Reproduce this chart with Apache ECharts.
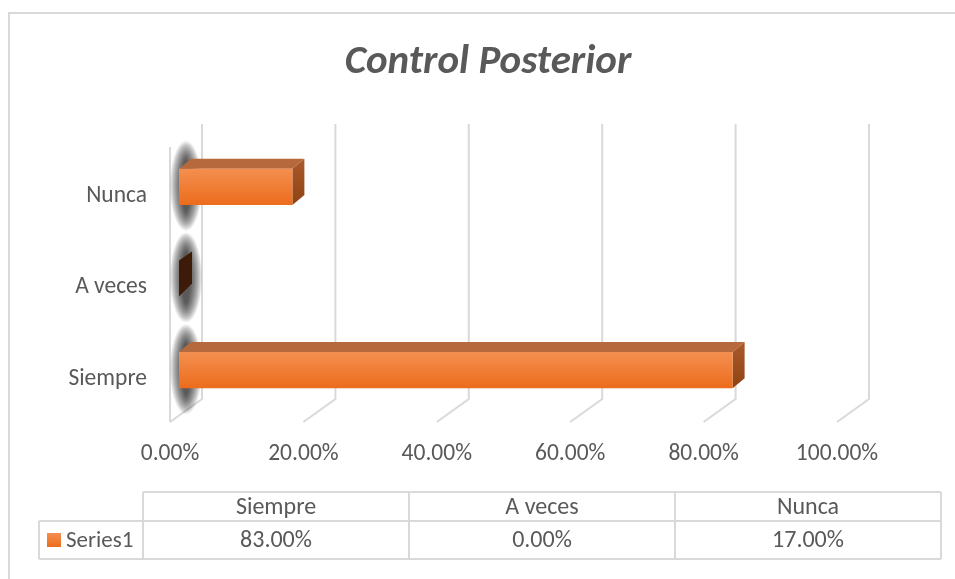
<!DOCTYPE html>
<html>
<head>
<meta charset="utf-8">
<script src="https://cdn.jsdelivr.net/npm/echarts@6/dist/echarts.min.js"></script>
<style>
html,body{margin:0;padding:0;background:#fff;}
#c{width:955px;height:579px;}
</style>
</head>
<body>
<div id="c"></div>
<script>
var titleText = 'Control Posterior';
var categories = ['Siempre', 'A veces', 'Nunca'];
var seriesName = 'Series1';
var values = [83, 0, 17];
var xTicks = [0, 20, 40, 60, 80, 100];

var FONT = 'Carlito, "Liberation Sans", Arial, sans-serif';
var TXT = '#595959';
var GRID = '#d9d9d9';

var chart = echarts.init(document.getElementById('c'), null, {renderer: 'canvas'});

var WALL_DX = 32, WALL_DY = -23;
var BAR_DX = 9, BAR_DY = -6;
var DEP_DX = 12, DEP_DY = -10;

function gridItem(params, api) {
  var cs = params.coordSys;
  var v = api.value(0);
  var x = api.coord([v, 0])[0];
  var bottom = cs.y + cs.height, top = cs.y;
  var children = [{
    type: 'polyline',
    shape: {points: [[x, bottom], [x + WALL_DX, bottom + WALL_DY], [x + WALL_DX, top + WALL_DY]]},
    style: {stroke: GRID, lineWidth: 2, fill: null}
  }];
  if (v === 0) {
    children.push({
      type: 'line',
      shape: {x1: x, y1: top, x2: x, y2: bottom},
      style: {stroke: GRID, lineWidth: 2}
    });
  }
  return {type: 'group', children: children};
}

function barItem(params, api) {
  var v = api.value(0);
  var ci = api.value(1);
  var p0 = api.coord([0, ci]);
  var p1 = api.coord([v, ci]);
  var band = api.size([0, 1])[1];
  var h = band * 0.395;
  var x0 = p0[0] + BAR_DX, x1 = p1[0] + BAR_DX;
  var yc = p0[1] + BAR_DY;
  var yT = yc - h / 2, yB = yc + h / 2;
  var children = [];
  // soft shadow on the side wall (stacked translucent ellipses)
  var scx = x0 + 7, scy = yc - 1;
  var N = 22;
  for (var k = 0; k < N; k++) {
    var t = k / (N - 1);
    children.push({
      type: 'ellipse',
      shape: {cx: scx, cy: scy, rx: 16 - 12 * t, ry: 45 - 19 * t},
      style: {fill: 'rgba(0,0,0,0.042)'}
    });
  }
  if (v > 0) {
    children.push({
      type: 'polygon',
      shape: {points: [[x0, yT], [x1, yT], [x1 + DEP_DX, yT + DEP_DY], [x0 + DEP_DX, yT + DEP_DY]]},
      style: {fill: '#b7693e'}
    });
    children.push({
      type: 'polygon',
      shape: {points: [[x1, yT], [x1 + DEP_DX, yT + DEP_DY], [x1 + DEP_DX, yB + DEP_DY], [x1, yB]]},
      style: {fill: new echarts.graphic.LinearGradient(0, 0, 0, 1, [{offset: 0, color: '#ab5a2a'}, {offset: 1, color: '#8e4213'}])}
    });
    children.push({
      type: 'rect',
      shape: {x: x0, y: yT, width: x1 - x0, height: yB - yT},
      style: {fill: new echarts.graphic.LinearGradient(0, 0, 0, 1, [{offset: 0, color: '#f48f50'}, {offset: 1, color: '#ec6c1c'}])}
    });
  } else {
    children.push({
      type: 'polygon',
      shape: {points: [[x1, yT], [x1 + DEP_DX + 1, yT + DEP_DY + 1], [x1 + DEP_DX + 1, yB + DEP_DY - 3], [x1, yB]]},
      style: {fill: '#3e1b08'}
    });
  }
  return {type: 'group', children: children};
}

var tLeftHead = 143, tLeftRow = 39, tRight = 941;
var tTop = 492, tMid = 521, tBot = 559;
var colW = (tRight - tLeftHead) / categories.length;
var graphics = [];
graphics.push({type: 'rect', shape: {x: 9, y: 13, width: 970, height: 600}, style: {fill: null, stroke: GRID, lineWidth: 2}, silent: true});
graphics.push({type: 'text', style: {text: titleText, x: 488, y: 63, align: 'center', verticalAlign: 'middle', font: 'italic bold 41px ' + FONT, fill: TXT}});
var tl = [];
tl.push([[tLeftHead, tTop], [tRight, tTop]]);
tl.push([[tLeftRow, tMid], [tRight, tMid]]);
tl.push([[tLeftRow, tBot], [tRight, tBot]]);
tl.push([[tLeftRow, tMid], [tLeftRow, tBot]]);
for (var i = 0; i <= categories.length; i++) {
  var cx = tLeftHead + colW * i;
  tl.push([[cx, tTop], [cx, tBot]]);
}
tl.forEach(function (l) {
  graphics.push({type: 'line', shape: {x1: l[0][0], y1: l[0][1], x2: l[1][0], y2: l[1][1]}, style: {stroke: GRID, lineWidth: 2}});
});
categories.forEach(function (c, i) {
  var cx = tLeftHead + colW * (i + 0.5);
  graphics.push({type: 'text', style: {text: c, x: cx, y: (tTop + tMid) / 2 + 1, align: 'center', verticalAlign: 'middle', font: '24px ' + FONT, fill: TXT}});
  graphics.push({type: 'text', style: {text: values[i].toFixed(2) + '%', x: cx, y: (tMid + tBot) / 2 + 1, align: 'center', verticalAlign: 'middle', font: '24px ' + FONT, fill: TXT}});
});
graphics.push({type: 'rect', shape: {x: 47, y: 533, width: 14, height: 14}, style: {fill: new echarts.graphic.LinearGradient(0, 0, 0, 1, [{offset: 0, color: '#f48f50'}, {offset: 1, color: '#ec6c1c'}])}});
graphics.push({type: 'text', style: {text: seriesName, x: 66, y: 541, align: 'left', verticalAlign: 'middle', font: '23px ' + FONT, fill: TXT}});

var option = {
  animation: false,
  backgroundColor: '#ffffff',
  grid: {left: 170, right: 118, top: 147, bottom: 157, containLabel: false},
  xAxis: {
    type: 'value', min: 0, max: 100, interval: 20,
    axisLine: {show: false}, axisTick: {show: false}, splitLine: {show: false},
    axisLabel: {formatter: function (v) { return v.toFixed(2) + '%'; }, color: TXT, fontSize: 23.5, fontFamily: FONT, margin: 20}
  },
  yAxis: {
    type: 'category', data: categories,
    axisLine: {show: false}, axisTick: {show: false}, splitLine: {show: false},
    axisLabel: {color: TXT, fontSize: 23.5, fontFamily: FONT, margin: 23, verticalAlign: 'top', lineHeight: 6}
  },
  series: [
    {type: 'custom', name: 'grid', renderItem: gridItem, data: xTicks.map(function (t) { return [t]; }), encode: {x: 0}, silent: true, z: 1},
    {type: 'custom', name: seriesName, renderItem: barItem, data: values.map(function (v, i) { return [v, i]; }), encode: {x: 0, y: 1}, z: 2}
  ],
  graphic: graphics
};
chart.setOption(option);
</script>
</body>
</html>
